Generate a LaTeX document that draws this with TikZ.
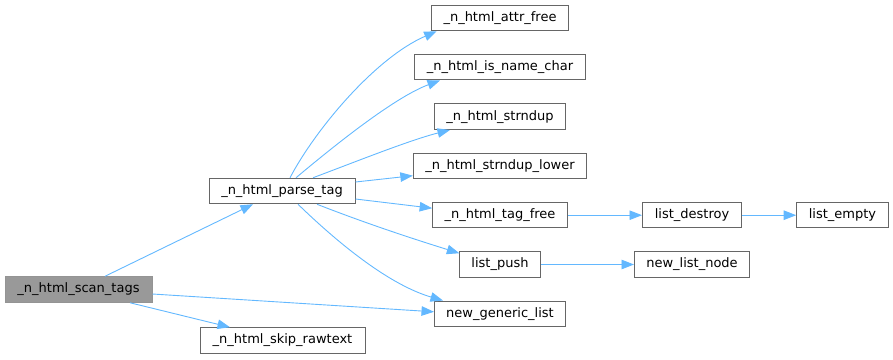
\documentclass[tikz,border=0pt]{standalone}
\usepackage{fontspec}
\setmainfont{DejaVu Sans}
\usetikzlibrary{arrows.meta,calc}
\definecolor{edgeblue}{HTML}{63B8FF}
\definecolor{boxgray}{HTML}{666666}
\definecolor{rootfill}{HTML}{999999}
\begin{document}
\begin{tikzpicture}[x=1pt,y=-1pt,
  fn/.style={draw=boxgray,line width=1pt,fill=white,inner sep=0pt,minimum height=25.5pt,font=\fontsize{13}{15}\selectfont},
  root/.style={fn,fill=rootfill,draw=boxgray!70},
  edge/.style={draw=edgeblue,line width=0.9pt,-{Triangle[length=12.5pt,width=9.5pt]}}]
\useasboundingbox (0,0) rectangle (893,359);
\node[root,minimum width=147pt] (scan) at (78.5,289.5) {\_n\_html\_scan\_tags};
\node[fn,minimum width=146pt] (parse) at (282,191) {\_n\_html\_parse\_tag};
\node[fn,minimum width=165pt] (skip) at (282.5,340.5) {\_n\_html\_skip\_rawtext};
\node[fn,minimum width=137.7pt] (attr) at (500,18) {\_n\_html\_attr\_free};
\node[fn,minimum width=171pt] (isname) at (500,67.2) {\_n\_html\_is\_name\_char};
\node[fn,minimum width=131pt] (strndup) at (500,116.7) {\_n\_html\_strndup};
\node[fn,minimum width=173.3pt] (strlow) at (500,166.2) {\_n\_html\_strndup\_lower};
\node[fn,minimum width=134.7pt] (tagfree) at (500,215.2) {\_n\_html\_tag\_free};
\node[fn,minimum width=80.3pt] (push) at (500,264.5) {list\_push};
\node[fn,minimum width=131pt] (generic) at (500,313.8) {new\_generic\_list};
\node[fn,minimum width=99pt] (destroy) at (692,215.2) {list\_destroy};
\node[fn,minimum width=115pt] (newnode) at (692,264.5) {new\_list\_node};
\node[fn,minimum width=91.6pt] (empty) at (842.5,215.2) {list\_empty};

\draw[edge] ($(scan.north)+(26.5,0)$) -- ($(parse.south)+(-29,0)$);
\draw[edge] ($(scan.south)+(51.5,0)$) -- ($(skip.north)+(-52.5,0)$);
\draw[edge] ($(scan.east)+(0,4.5)$) -- ($(generic.west)+(0,-2)$);

\draw[edge] ($(parse.north)+(8,0)$) .. controls (315,130) and (375,58) .. ($(attr.south west)+(6,0)$);
\draw[edge] ($(parse.north)+(14,0)$) .. controls (335,145) and (395,97) .. ($(isname.south west)+(26,0)$);
\draw[edge] ($(parse.north)+(31,0)$) .. controls (355,162) and (410,140) .. ($(strndup.south west)+(16,0)$);
\draw[edge] ($(parse.east)+(0,-9)$) -- ($(strlow.west)+(0,9.5)$);
\draw[edge] ($(parse.east)+(0,8)$) -- ($(tagfree.west)+(0,-7)$);
\draw[edge] ($(parse.south)+(35,0)$) .. controls (370,225) and (420,241) .. ($(push.north west)+(0,2)$);
\draw[edge] ($(parse.south)+(16,0)$) .. controls (340,245) and (390,285) .. ($(generic.north west)+(9,0)$);

\draw[edge] (tagfree) -- (destroy);
\draw[edge] (destroy) -- (empty);
\draw[edge] (push) -- (newnode);
\end{tikzpicture}
\end{document}
